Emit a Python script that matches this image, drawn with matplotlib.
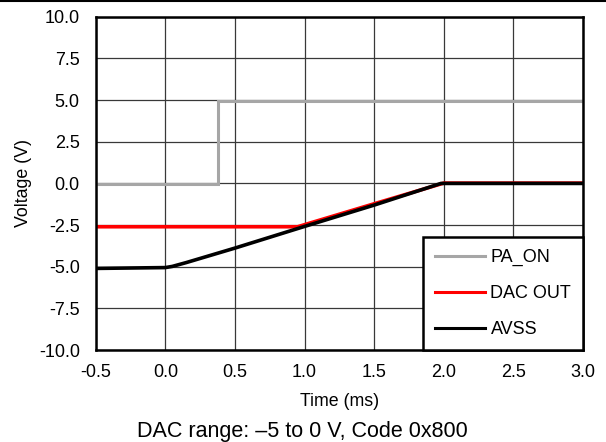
import matplotlib
matplotlib.use("Agg")
import matplotlib.pyplot as plt
from matplotlib.lines import Line2D

plt.rcParams["font.family"] = ["Liberation Sans", "DejaVu Sans"]

# scope traces, read as breakpoints off the capture (time in ms, volts)
pa_on_t = [-0.5, 0.38, 0.38, 3.0]
pa_on_v = [-0.05, -0.05, 4.92, 4.92]

dac_t = [-0.5, 0.95, 1.5, 2.0, 3.0]
dac_v = [-2.6, -2.6, -1.22, 0.02, 0.02]

avss_t = [-0.5, 0.0, 0.05, 0.15, 0.5, 1.0, 1.5, 1.98, 3.0]
avss_v = [-5.1, -5.05, -4.98, -4.75, -3.88, -2.58, -1.3, 0.0, 0.0]

x_ticks = [-0.5, 0.0, 0.5, 1.0, 1.5, 2.0, 2.5, 3.0]
y_ticks = [-10.0, -7.5, -5.0, -2.5, 0.0, 2.5, 5.0, 7.5, 10.0]

fig = plt.figure(figsize=(6.06, 4.42), dpi=100)
ax = fig.add_axes([0.158, 0.208, 0.804, 0.754])

ax.plot(pa_on_t, pa_on_v, color="#a6a6a6", lw=2.2, label="PA_ON", solid_joinstyle="miter")
ax.plot(dac_t, dac_v, color="#ff0000", lw=2.6, label="DAC OUT")
ax.plot(avss_t, avss_v, color="#000000", lw=2.6, label="AVSS")

ax.set_xlim(-0.5, 3.0)
ax.set_ylim(-10, 10)
ax.set_xticks(x_ticks)
ax.set_yticks(y_ticks)
ax.set_xticklabels([f"{v:.1f}" for v in x_ticks], fontsize=13)
ax.set_yticklabels([f"{v:.1f}" for v in y_ticks], fontsize=13)
ax.tick_params(axis="y", length=0, pad=11.5)
ax.tick_params(axis="x", length=0, pad=10)
ax.grid(True, color="#383838", lw=0.9)
ax.set_axisbelow(True)
for s in ax.spines.values():
    s.set_linewidth(1.8)
    s.set_color("black")

ax.set_xlabel("Time (ms)", fontsize=12.8, labelpad=9)
ax.set_ylabel("Voltage (V)", fontsize=12.8, labelpad=5)

leg = ax.legend(loc="lower right", bbox_to_anchor=(1.0, 0.0), borderaxespad=0,
                fancybox=False, framealpha=1, edgecolor="black", fontsize=13,
                handlelength=2.8, handletextpad=0.3, labelspacing=1.05,
                borderpad=0.65)
leg.get_frame().set_linewidth(1.8)
for h in leg.get_lines():
    h.set_linewidth(2.2)

fig.text(0.499, 0.011, "DAC range: \u20135 to 0 V, Code 0x800", ha="center",
         va="baseline", fontsize=15.5)
fig.add_artist(Line2D([0, 1], [0.998, 0.998], color="black", lw=1.5,
                      transform=fig.transFigure))

fig.savefig("out.png", dpi=100)
